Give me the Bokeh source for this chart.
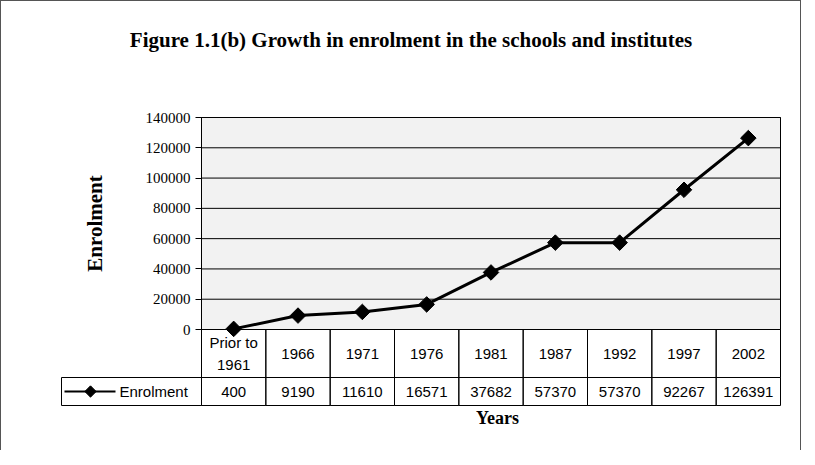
import numpy as np
from bokeh.plotting import figure
from bokeh.models import Range1d, FixedTicker, NumeralTickFormatter
from bokeh.layouts import column
from bokeh.embed import file_html
from bokeh.resources import INLINE
from bokeh.core.properties import value

# ---------------- data ----------------
categories = ["Prior to\n1961", "1966", "1971", "1976", "1981", "1987", "1992", "1997", "2002"]
enrolment = [400, 9190, 11610, 16571, 37682, 57370, 57370, 92267, 126391]
y_ticks = [0, 20000, 40000, 60000, 80000, 100000, 120000, 140000]
series_name = "Enrolment"
title_text = "Figure 1.1(b) Growth in enrolment in the schools and institutes"
x_title = "Years"
y_title = "Enrolment"

SERIF = "Liberation Serif"
SANS = "Liberation Sans"

n = len(categories)
idx = list(range(n))
y_min, y_max = y_ticks[0], y_ticks[-1]

# ---------------- layout (page pixels) ----------------
W, H = 799, 449
OX, OY = 9, 9                     # page offset of the figure (margin + border)
MB_L, MB_R = 59, 16               # borders of the figure
PLOT_L, PLOT_R = 209, 788         # plot area, page x
PLOT_T, PLOT_B = 125, 337         # plot area, page y
U = (PLOT_R - PLOT_L) / n         # px per category
K = (y_max - y_min) / (PLOT_B - PLOT_T)  # data units per px

frame_l = OX + MB_L
frame_r = OX + W - MB_R
frame_t = OY
frame_b = OY + H


def px(x_page):
    return (x_page - PLOT_L) / U - 0.5


def py(y_page):
    return y_min + (PLOT_B - y_page) * K


p = figure(width=W, height=H, output_backend="svg", toolbar_location=None,
           x_range=Range1d(px(frame_l), px(frame_r)),
           y_range=Range1d(py(frame_b), py(frame_t)),
           x_axis_type=None,
           min_border_left=MB_L, min_border_right=MB_R,
           min_border_top=0, min_border_bottom=0)
p.outline_line_color = None
p.background_fill_color = "white"
p.border_fill_color = "white"
p.ygrid.grid_line_color = None

# plot area background + border
p.quad(left=[-0.5], right=[n - 0.5], bottom=[y_min], top=[y_max],
       fill_color="#f2f2f2", line_color="black", line_width=1)
# horizontal gridlines at the ticks
p.segment(x0=[-0.5] * len(y_ticks), x1=[n - 0.5] * len(y_ticks),
          y0=y_ticks, y1=y_ticks, line_color="black", line_width=1)

ya = p.yaxis[0]
ya.fixed_location = -0.5
ya.bounds = (y_min, y_max)
ya.ticker = FixedTicker(ticks=y_ticks)
ya.formatter = NumeralTickFormatter(format="0")
ya.major_tick_out = 6
ya.major_tick_in = 0
ya.minor_tick_line_color = None
ya.major_tick_line_color = "black"
ya.axis_line_color = "black"
ya.major_label_standoff = 5
ya.major_label_text_font = SERIF
ya.major_label_text_font_size = "15px"
ya.major_label_text_color = "black"

# ---------------- series ----------------
p.line(idx, enrolment, line_color="black", line_width=3)
p.scatter(idx, enrolment, marker="square", size=11, angle=np.pi / 4,
          fill_color="black", line_color="black")

# ---------------- texts ----------------
p.text(x=[px(418.5)], y=[py(47)], text=[title_text], text_align="center",
       text_baseline="alphabetic", text_font=value(SERIF), text_font_style="bold",
       text_font_size="21px", text_color="black")
p.text(x=[px(102)], y=[py(231)], text=[y_title], angle=np.pi / 2,
       text_align="center", text_baseline="middle", text_font=value(SERIF),
       text_font_style="bold", text_font_size="21px", text_color="black")
p.text(x=[px(505)], y=[py(425)], text=[x_title], text_align="center",
       text_baseline="middle", text_font=value(SERIF), text_font_style="bold",
       text_font_size="18px", text_color="black")

# ---------------- data table ----------------
HDR_T, HDR_B = 337, 385
VAL_T, VAL_B = 385, 413
LEG_L = 69
hdr_y = py((HDR_T + HDR_B) / 2)
val_y = py((VAL_T + VAL_B) / 2)

p.rect(x=idx, y=[hdr_y] * n, width=1, height=(HDR_B - HDR_T) * K,
       fill_color=None, line_color="black", line_width=1)
p.rect(x=idx, y=[val_y] * n, width=1, height=(VAL_B - VAL_T) * K,
       fill_color=None, line_color="black", line_width=1)
p.rect(x=[(px(LEG_L) + px(PLOT_L)) / 2], y=[val_y], width=px(PLOT_L) - px(LEG_L),
       height=(VAL_B - VAL_T) * K, fill_color=None, line_color="black", line_width=1)

p.text(x=idx, y=[hdr_y] * n, text=categories, text_align="center",
       text_baseline="middle", text_font=value(SANS), text_font_size="15px",
       text_color="black", text_line_height=1.35)
p.text(x=idx, y=[val_y] * n, text=[str(v) for v in enrolment], text_align="center",
       text_baseline="middle", text_font=value(SANS), text_font_size="15px",
       text_color="black")

# legend key inside the table
p.segment(x0=[px(72)], y0=[val_y], x1=[px(123)], y1=[val_y],
          line_color="black", line_width=2)
p.scatter(x=[px(98)], y=[val_y], marker="square", size=8, angle=np.pi / 4,
          fill_color="black", line_color="black")
p.text(x=[px(127)], y=[val_y], text=[series_name], text_align="left",
       text_baseline="middle", text_font=value(SANS), text_font_size="15px",
       text_color="black")

layout = column(p, spacing=0,
                styles={"border-top": "1px solid #555", "border-left": "1px solid #555",
                        "border-right": "1px solid #555"})

open("out.html", "w").write(file_html(layout, INLINE))
